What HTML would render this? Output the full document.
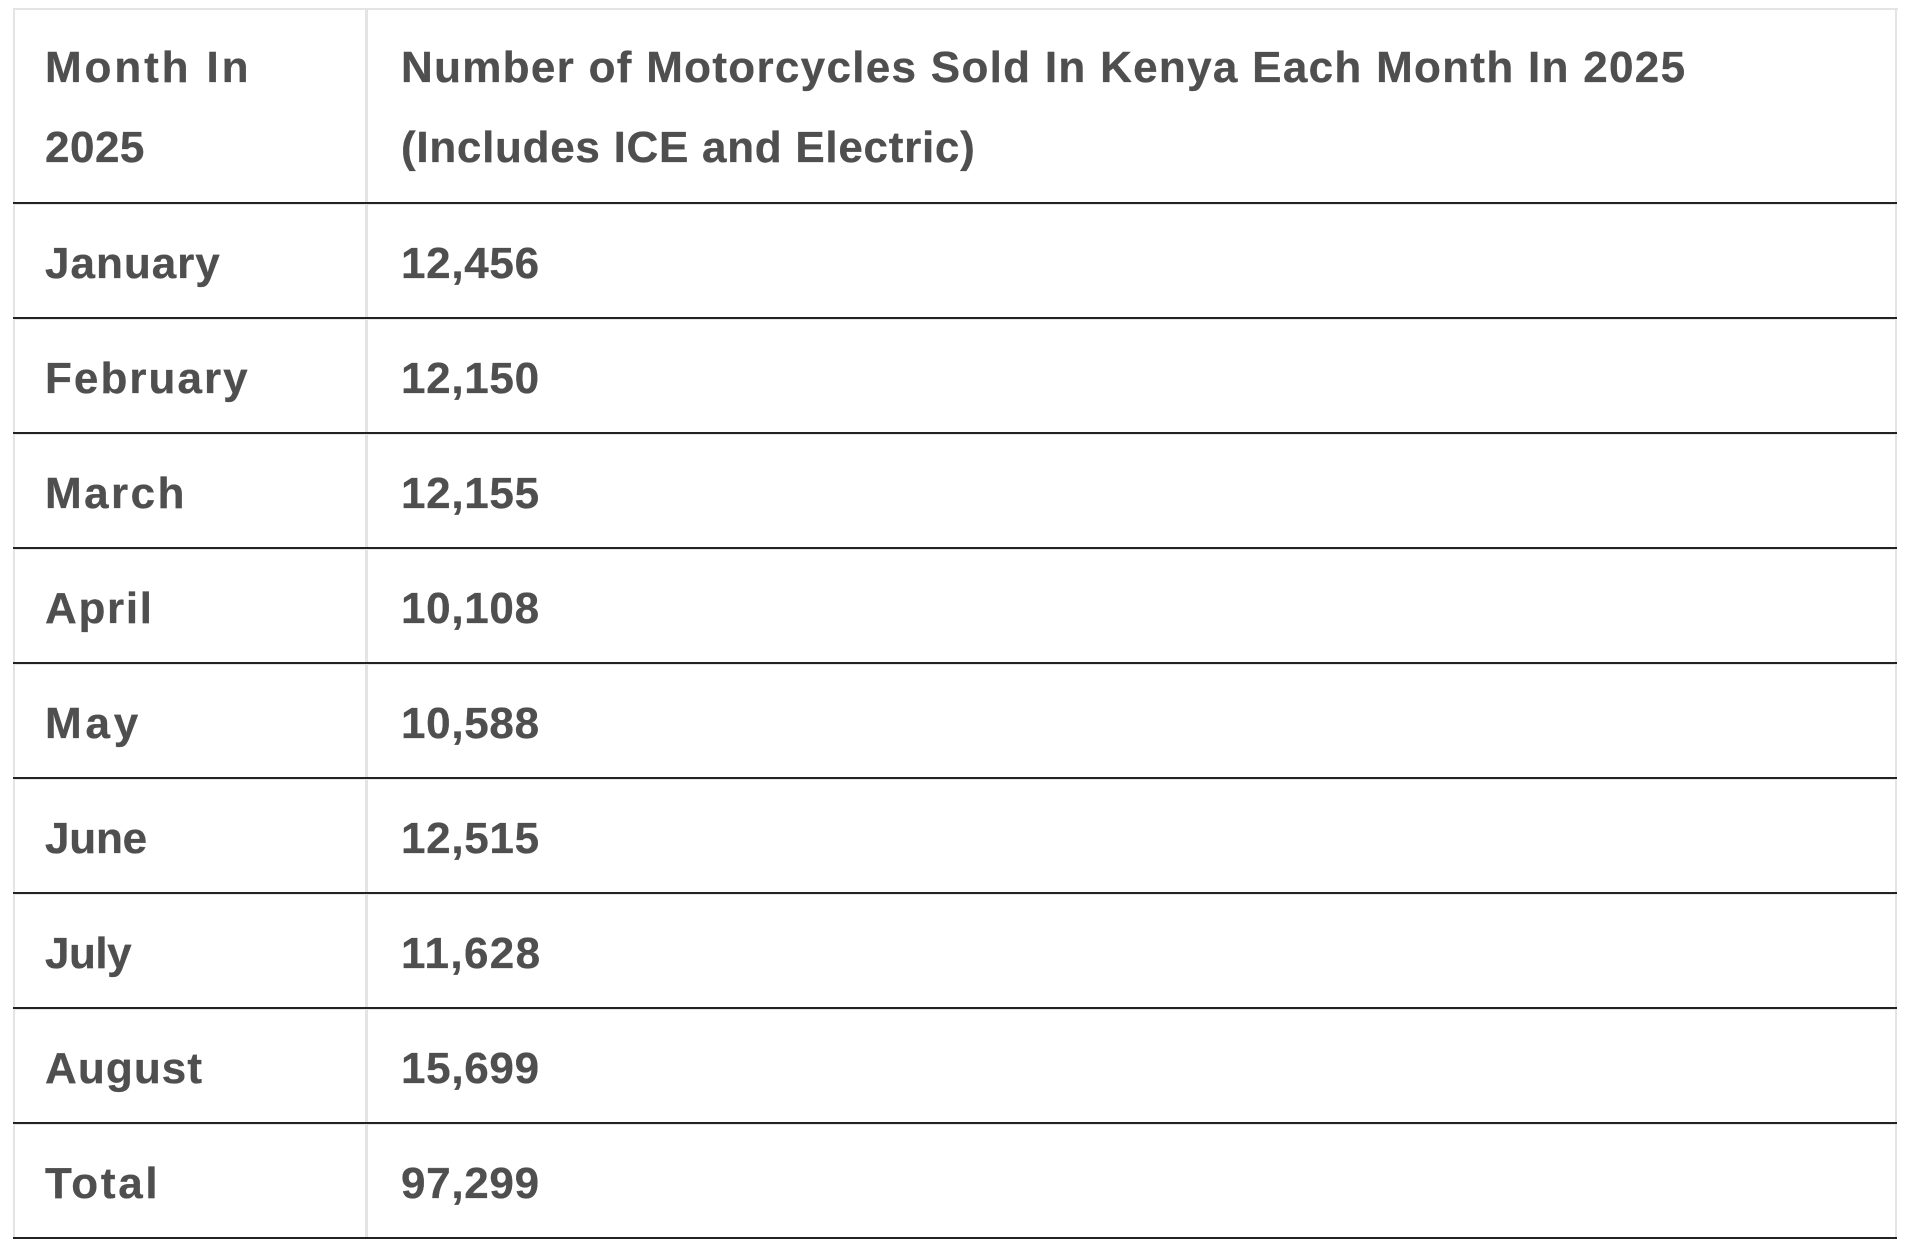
<!DOCTYPE html>
<html>
<head>
<meta charset="utf-8">
<style>
  html, body { margin:0; padding:0; background:#ffffff; }
  body { width:1907px; height:1252px; position:relative; overflow:hidden;
         font-family:"Liberation Sans", "DejaVu Sans", sans-serif; }
  .g { position:absolute; background:#e4e4e4; }
  .k { position:absolute; left:13px; width:1884px; height:2px; background:#222222; }
  .kg { position:absolute; left:13px; width:1884px; height:1px; background:#e6e6e6; }
  .t { position:absolute; font-weight:bold; font-size:44px; line-height:44px; color:#4f4f4f;
       white-space:nowrap; -webkit-text-stroke:0.3px #4f4f4f; }
  .c1 { left:45px; letter-spacing:1px; }
  .c2 { left:401px; letter-spacing:0.7px; }
  .h2 { left:401px; letter-spacing:1.3px; }
</style>
</head>
<body>
  <!-- outer gray borders -->
  <div class="g" style="left:13px; top:8px; width:1885px; height:2px;"></div>
  <div class="g" style="left:13px; top:8px; width:2px; height:1231px;"></div>
  <div class="g" style="left:1895px; top:8px; width:2px; height:1231px;"></div>
  <div class="g" style="left:365px; top:8px; width:3px; height:1231px;"></div>

  <!-- black row lines -->
  <div class="k" style="top:202px;"></div><div class="kg" style="top:204px;"></div>
  <div class="k" style="top:317px;"></div><div class="kg" style="top:319px;"></div>
  <div class="k" style="top:432px;"></div><div class="kg" style="top:434px;"></div>
  <div class="k" style="top:547px;"></div><div class="kg" style="top:549px;"></div>
  <div class="k" style="top:662px;"></div><div class="kg" style="top:664px;"></div>
  <div class="k" style="top:777px;"></div><div class="kg" style="top:779px;"></div>
  <div class="k" style="top:892px;"></div><div class="kg" style="top:894px;"></div>
  <div class="k" style="top:1007px;"></div><div class="kg" style="top:1009px;"></div>
  <div class="k" style="top:1122px;"></div><div class="kg" style="top:1124px;"></div>
  <div class="k" style="top:1237px;"></div>

  <!-- header -->
  <div class="t c1" style="top:46px; letter-spacing:2.9px;">Month In</div>
  <div class="t c1" style="top:126px; letter-spacing:0.5px;">2025</div>
  <div class="t h2" style="top:46px;">Number of Motorcycles Sold In Kenya Each Month In 2025</div>
  <div class="t h2" style="top:126px; letter-spacing:0.72px;">(Includes ICE and Electric)</div>

  <!-- rows -->
  <div class="t c1" style="top:242px;">January</div>
  <div class="t c2" style="top:242px;">12,456</div>

  <div class="t c1" style="top:357px; letter-spacing:2.05px;">February</div>
  <div class="t c2" style="top:357px;">12,150</div>

  <div class="t c1" style="top:472px; letter-spacing:2.45px;">March</div>
  <div class="t c2" style="top:472px;">12,155</div>

  <div class="t c1" style="top:587px; letter-spacing:1.7px;">April</div>
  <div class="t c2" style="top:587px;">10,108</div>

  <div class="t c1" style="top:702px; letter-spacing:3.8px;">May</div>
  <div class="t c2" style="top:702px;">10,588</div>

  <div class="t c1" style="top:817px; letter-spacing:-0.2px;">June</div>
  <div class="t c2" style="top:817px;">12,515</div>

  <div class="t c1" style="top:932px; letter-spacing:-0.5px;">July</div>
  <div class="t c2" style="top:932px; letter-spacing:1.4px;">11,628</div>

  <div class="t c1" style="top:1047px; letter-spacing:1.1px;">August</div>
  <div class="t c2" style="top:1047px;">15,699</div>

  <div class="t c1" style="top:1162px; letter-spacing:2.7px;">Total</div>
  <div class="t c2" style="top:1162px;">97,299</div>
</body>
</html>
